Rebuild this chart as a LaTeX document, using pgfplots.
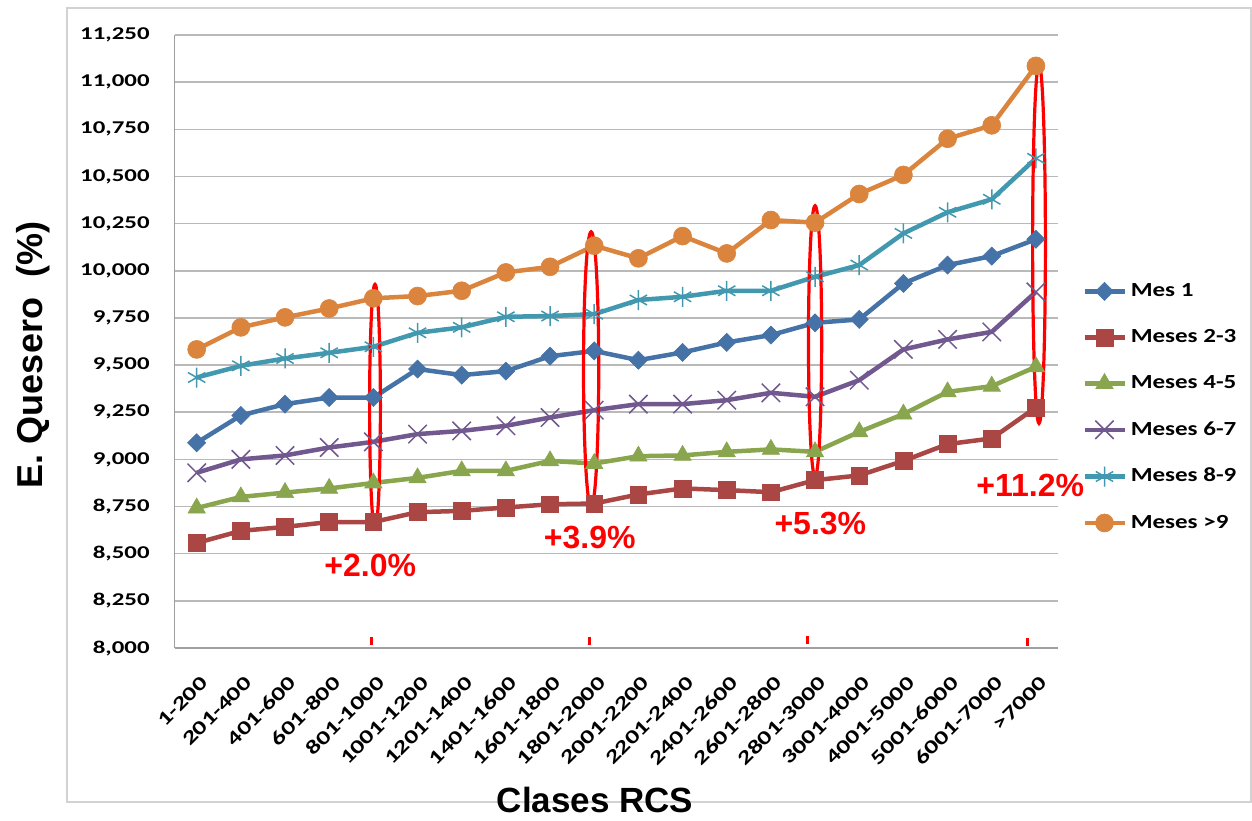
\documentclass[border=0pt]{standalone}
\usepackage{fontspec}
\setmainfont{Liberation Sans}
\newfontfamily\calib[FakeStretch=1.38]{Carlito}
\newfontfamily\calibX[FakeStretch=1.35]{Carlito}
\newfontfamily\calibL[FakeStretch=1.25]{Carlito}
\usepackage{pgfplots}
\pgfplotsset{compat=1.18}
\usepackage{pgfplotstable}

\definecolor{cA}{HTML}{4572A7}
\definecolor{cB}{HTML}{AA4643}
\definecolor{cC}{HTML}{89A54E}
\definecolor{cD}{HTML}{71588F}
\definecolor{cE}{HTML}{4198AF}
\definecolor{cF}{HTML}{DB843D}

\pgfplotstableread{
i  m1    m23   m45   m67   m89   m9
0  9088  8557  8742  8929  9434  9583
1  9233  8621  8801  9000  9496  9700
2  9293  8642  8824  9021  9535  9753
3  9328  8668  8846  9063  9565  9800
4  9328  8668  8875  9093  9597  9854
5  9479  8720  8902  9134  9671  9866
6  9447  8727  8939  9151  9700  9894
7  9468  8745  8939  9178  9756  9991
8  9547  8762  8992  9222  9760  10021
9  9575  8766  8978  9261  9770  10133
10 9526  8814  9017  9293  9845  10066
11 9567  8846  9021  9293  9862  10184
12 9620  8837  9040  9314  9894  10092
13 9659  8826  9053  9353  9894  10269
14 9724  8890  9040  9332  9968  10255
15 9742  8915  9146  9420  10030 10407
16 9933  8992  9240  9583  10198 10508
17 10030 9081  9358  9636  10310 10700
18 10078 9111  9388  9676  10379 10771
19 10167 9275  9491  9888  10596 11086
}\datatable

\begin{document}
\begin{tikzpicture}
\useasboundingbox (0,0) rectangle (626pt,410pt);
\draw[gray!35, line width=0.75pt] (33.5pt,9pt) rectangle (625.5pt,406pt);
\begin{axis}[
  at={(87.3pt,86pt)}, anchor=south west,
  scale only axis, width=441.7pt, height=306.5pt,
  xmin=-0.5, xmax=19.5, ymin=8000, ymax=11250,
  ytick={8000,8250,...,11250},
  xtick={0,...,19},
  xticklabels={1-200,201-400,401-600,601-800,801-1000,1001-1200,1201-1400,1401-1600,1601-1800,1801-2000,2001-2200,2201-2400,2401-2600,2601-2800,2801-3000,3001-4000,4001-5000,5001-6000,6001-7000,>7000},
  axis x line*=bottom, axis y line*=left,
  axis line style={draw=gray!75, line width=0.75pt, -},
  ymajorgrids, grid style={gray!55, line width=0.75pt},
  major tick length=0pt,
  scaled y ticks=false,
  /pgf/number format/assume math mode=true,
  /pgf/number format/1000 sep={,},
  yticklabel style={font=\calib\bfseries\fontsize{9}{10}\selectfont, anchor=east, inner sep=0pt, xshift=-12.3pt},
  xticklabel style={font=\calibX\bfseries\fontsize{9.8}{11}\selectfont, rotate=45, anchor=east, inner sep=0pt, xshift=-8.35pt, yshift=-13.9pt},
  xlabel={Clases RCS},
  ylabel={E. Quesero\ \ (\%)},
  xlabel style={at={(rel axis cs:0.476,-0.248)}, anchor=center, font=\bfseries\fontsize{17.5}{20}\selectfont},
  ylabel style={at={(rel axis cs:-0.160,0.478)}, anchor=center, rotate=0, font=\bfseries\fontsize{18}{20}\selectfont},
  legend style={at={(1.027,0.602)}, anchor=north west, draw=none, fill=none,
    font=\calibL\bfseries\fontsize{10}{12}\selectfont, row sep=11pt, inner sep=0pt},
  legend cell align=left,
  legend image code/.code={\draw[mark repeat=2,mark phase=2] plot coordinates {(0pt,0pt) (10pt,0pt) (20pt,0pt)};},
  every axis plot/.append style={line width=2.25pt},
  clip=false,
]
\addplot[cA, mark=square*, mark size=3.2pt, mark options={rotate=45, solid, line width=0.3pt, fill=cA}] table[x=i, y=m1] {\datatable};
\addlegendentry{Mes 1}
\addplot[cB, mark=square*, mark size=4.2pt, mark options={solid, line width=0.3pt, fill=cB}] table[x=i, y=m23] {\datatable};
\addlegendentry{Meses 2-3}
\addplot[cC, mark=triangle*, mark size=5pt, mark options={solid, line width=0.3pt, fill=cC}] table[x=i, y=m45] {\datatable};
\addlegendentry{Meses 4-5}
\addplot[cD, mark=x, mark size=6.5pt, mark options={solid, line width=0.75pt}] table[x=i, y=m67] {\datatable};
\addlegendentry{Meses 6-7}
\addplot[cE, mark=asterisk, mark size=5pt, mark options={solid, line width=0.75pt}] table[x=i, y=m89] {\datatable};
\addlegendentry{Meses 8-9}
\addplot[cF, mark=*, mark size=4.5pt, mark options={solid, line width=0.3pt, fill=cF}] table[x=i, y=m9] {\datatable};
\addlegendentry{Meses >9}

\draw[red, line width=1.6pt] (axis cs:4.037,9281) ellipse [x radius=2.7pt, y radius=61pt];
\draw[red, line width=1.6pt] (axis cs:8.93,9478) ellipse [x radius=3.8pt, y radius=68.7pt];
\draw[red, line width=1.6pt] (axis cs:14.0,9627) ellipse [x radius=3.3pt, y radius=67.7pt];
\draw[red, line width=1.6pt] (axis cs:19.07,10142) ellipse [x radius=3.2pt, y radius=89.7pt];

\draw[red, line width=1.5pt] (axis cs:3.95,8015) -- (axis cs:3.95,8057);
\draw[red, line width=1.5pt] (axis cs:8.9,8015) -- (axis cs:8.9,8057);
\draw[red, line width=1.5pt] (axis cs:13.82,8020) -- (axis cs:13.82,8062);
\draw[red, line width=1.5pt] (axis cs:18.8,8010) -- (axis cs:18.8,8052);

\node[red, font=\bfseries\fontsize{16}{18}\selectfont] at (axis cs:3.93,8439) {+2.0\%};
\node[red, font=\bfseries\fontsize{16}{18}\selectfont] at (axis cs:8.9,8588) {+3.9\%};
\node[red, font=\bfseries\fontsize{16}{18}\selectfont] at (axis cs:14.12,8662) {+5.3\%};
\node[red, font=\bfseries\fontsize{16}{18}\selectfont] at (axis cs:18.87,8863) {+11.2\%};
\end{axis}
\end{tikzpicture}
\end{document}
